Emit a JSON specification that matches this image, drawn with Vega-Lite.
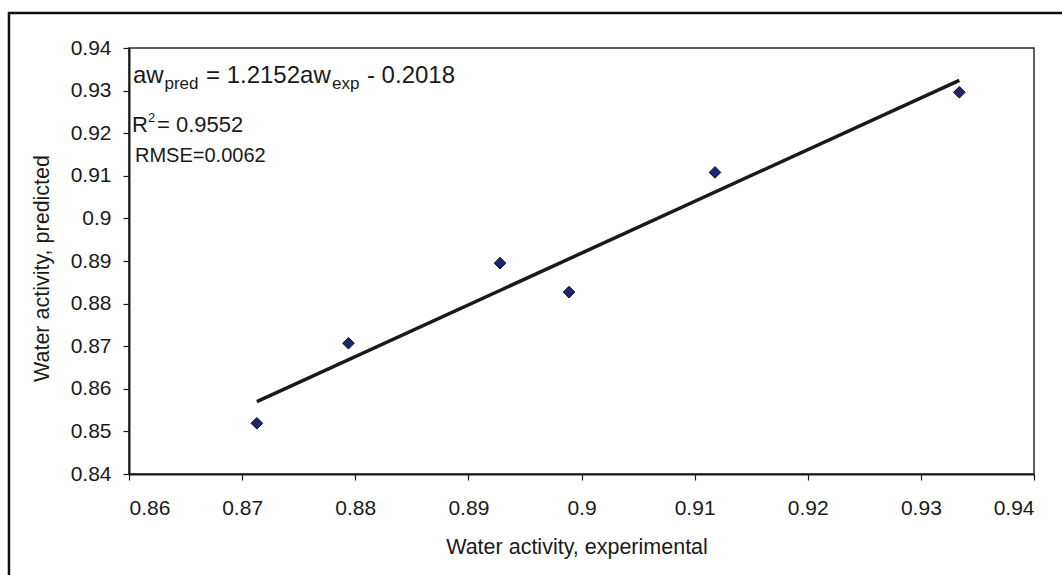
{
  "$schema": "https://vega.github.io/schema/vega-lite/v6.json",
  "autosize": "none",
  "width": 905,
  "height": 426,
  "padding": {"left": 129, "top": 48, "right": 28, "bottom": 101},
  "background": "white",
  "config": {
    "font": "Liberation Sans",
    "view": {"stroke": "#2a2a2a", "strokeWidth": 1.5},
    "axis": {
      "grid": false,
      "domainColor": "#1a1a1a",
      "domainWidth": 2,
      "tickColor": "#1a1a1a",
      "tickWidth": 1.2,
      "tickSize": 6,
      "labelFont": "Liberation Sans",
      "labelFontSize": 21,
      "labelColor": "#1a1a1a",
      "titleFont": "Liberation Sans",
      "titleFontSize": 21.5,
      "titleFontWeight": "normal",
      "titleColor": "#1a1a1a"
    }
  },
  "datasets": {
    "points": [
      {"experimental": 0.8713, "predicted": 0.8519},
      {"experimental": 0.8794, "predicted": 0.8707},
      {"experimental": 0.8928, "predicted": 0.8895},
      {"experimental": 0.8989, "predicted": 0.8827},
      {"experimental": 0.9118, "predicted": 0.9108},
      {"experimental": 0.9334, "predicted": 0.9296}
    ],
    "fit": [
      {"experimental": 0.8713, "predicted": 0.8570},
      {"experimental": 0.9334, "predicted": 0.9324}
    ],
    "frame": [{"name": "frame"}]
  },
  "layer": [
    {
      "data": {"name": "points"},
      "mark": {"type": "point", "shape": "diamond", "filled": true, "fill": "#1f2472", "stroke": "#111111", "strokeWidth": 1, "size": 135, "opacity": 1},
      "encoding": {
        "x": {
          "field": "experimental",
          "type": "quantitative",
          "title": "Water activity, experimental",
          "scale": {"domain": [0.86, 0.94], "nice": false, "zero": false},
          "axis": {
            "values": [0.86, 0.87, 0.88, 0.89, 0.9, 0.91, 0.92, 0.93, 0.94],
            "format": ".2~f",
            "labelPadding": 17,
            "titleBaseline": "alphabetic",
            "titleY": 79.5,
            "titleX": 447.5,
            "titleAnchor": "start",
            "titleAlign": "center"
          }
        },
        "y": {
          "field": "predicted",
          "type": "quantitative",
          "title": "Water activity, predicted",
          "scale": {"domain": [0.84, 0.94], "nice": false, "zero": false},
          "axis": {
            "values": [0.84, 0.85, 0.86, 0.87, 0.88, 0.89, 0.9, 0.91, 0.92, 0.93, 0.94],
            "format": ".2~f",
            "labelPadding": 12,
            "titleBaseline": "alphabetic",
            "titleAngle": -90,
            "titleX": -80.7,
            "titleY": 220,
            "titleAlign": "center",
            "titleAnchor": "start"
          }
        }
      }
    },
    {
      "data": {"name": "frame"},
      "mark": {"type": "rect", "fillOpacity": 0, "stroke": "#111111", "strokeWidth": 2.5, "clip": false},
      "encoding": {
        "x": {"datum": 0.84939, "type": "quantitative", "title": "Water activity, experimental"},
        "x2": {"datum": 0.965},
        "y": {"datum": 0.94822, "type": "quantitative", "title": "Water activity, predicted"},
        "y2": {"datum": 0.80}
      }
    },
    {
      "data": {"name": "fit"},
      "mark": {"type": "line", "color": "#1a1a1a", "strokeWidth": 3.5},
      "encoding": {
        "x": {"field": "experimental", "type": "quantitative", "title": "Water activity, experimental"},
        "y": {"field": "predicted", "type": "quantitative", "title": "Water activity, predicted"}
      }
    },
    {
      "data": {"values": [{"label": "aw"}]},
      "mark": {"type": "text", "align": "left", "baseline": "alphabetic", "fontSize": 24, "color": "#1a1a1a"},
      "encoding": {"text": {"field": "label"}, "x": {"datum": 0.86035, "type": "quantitative", "title": "Water activity, experimental"}, "y": {"datum": 0.93168, "type": "quantitative", "title": "Water activity, predicted"}}
    },
    {
      "data": {"values": [{"label": "pred"}]},
      "mark": {"type": "text", "align": "left", "baseline": "alphabetic", "fontSize": 17, "dx": 31.5, "color": "#1a1a1a"},
      "encoding": {"text": {"field": "label"}, "x": {"datum": 0.86035, "type": "quantitative", "title": "Water activity, experimental"}, "y": {"datum": 0.93027, "type": "quantitative", "title": "Water activity, predicted"}}
    },
    {
      "data": {"values": [{"label": "= 1.2152aw"}]},
      "mark": {"type": "text", "align": "left", "baseline": "alphabetic", "fontSize": 24, "dx": 73, "color": "#1a1a1a"},
      "encoding": {"text": {"field": "label"}, "x": {"datum": 0.86035, "type": "quantitative", "title": "Water activity, experimental"}, "y": {"datum": 0.93168, "type": "quantitative", "title": "Water activity, predicted"}}
    },
    {
      "data": {"values": [{"label": "exp"}]},
      "mark": {"type": "text", "align": "left", "baseline": "alphabetic", "fontSize": 17, "dx": 199, "color": "#1a1a1a"},
      "encoding": {"text": {"field": "label"}, "x": {"datum": 0.86035, "type": "quantitative", "title": "Water activity, experimental"}, "y": {"datum": 0.93027, "type": "quantitative", "title": "Water activity, predicted"}}
    },
    {
      "data": {"values": [{"label": "- 0.2018"}]},
      "mark": {"type": "text", "align": "left", "baseline": "alphabetic", "fontSize": 24, "dx": 234, "color": "#1a1a1a"},
      "encoding": {"text": {"field": "label"}, "x": {"datum": 0.86035, "type": "quantitative", "title": "Water activity, experimental"}, "y": {"datum": 0.93168, "type": "quantitative", "title": "Water activity, predicted"}}
    },
    {
      "data": {"values": [{"label": "R"}]},
      "mark": {"type": "text", "align": "left", "baseline": "alphabetic", "fontSize": 22, "color": "#1a1a1a"},
      "encoding": {"text": {"field": "label"}, "x": {"datum": 0.86027, "type": "quantitative", "title": "Water activity, experimental"}, "y": {"datum": 0.92026, "type": "quantitative", "title": "Water activity, predicted"}}
    },
    {
      "data": {"values": [{"label": "2"}]},
      "mark": {"type": "text", "align": "left", "baseline": "alphabetic", "fontSize": 13, "dx": 16, "color": "#1a1a1a"},
      "encoding": {"text": {"field": "label"}, "x": {"datum": 0.86027, "type": "quantitative", "title": "Water activity, experimental"}, "y": {"datum": 0.92253, "type": "quantitative", "title": "Water activity, predicted"}}
    },
    {
      "data": {"values": [{"label": "= 0.9552"}]},
      "mark": {"type": "text", "align": "left", "baseline": "alphabetic", "fontSize": 22, "dx": 25, "color": "#1a1a1a"},
      "encoding": {"text": {"field": "label"}, "x": {"datum": 0.86027, "type": "quantitative", "title": "Water activity, experimental"}, "y": {"datum": 0.92026, "type": "quantitative", "title": "Water activity, predicted"}}
    },
    {
      "data": {"values": [{"label": "RMSE=0.0062"}]},
      "mark": {"type": "text", "align": "left", "baseline": "alphabetic", "fontSize": 20, "color": "#1a1a1a"},
      "encoding": {"text": {"field": "label"}, "x": {"datum": 0.86053, "type": "quantitative", "title": "Water activity, experimental"}, "y": {"datum": 0.91315, "type": "quantitative", "title": "Water activity, predicted"}}
    }
  ]
}
